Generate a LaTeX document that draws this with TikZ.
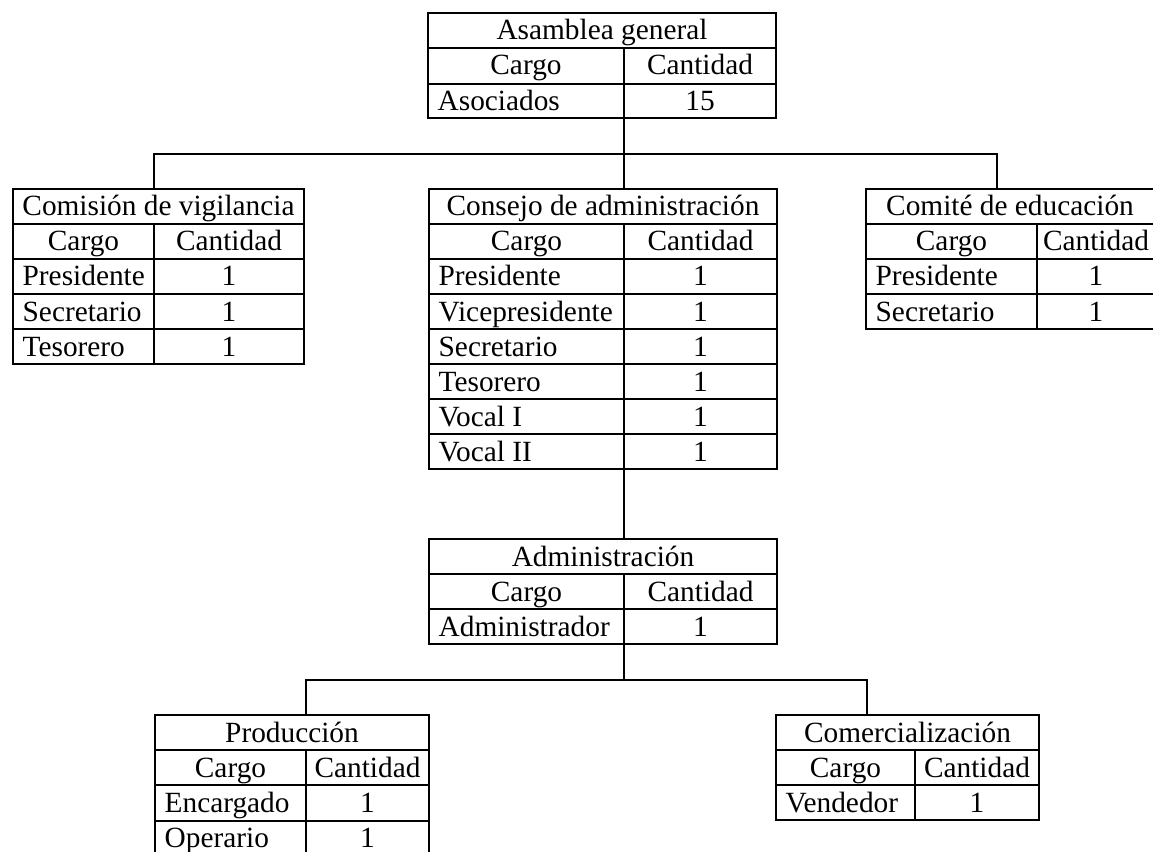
\documentclass[tikz,border=0pt]{standalone}
\usepackage{fontspec}
\setmainfont{Liberation Serif}
\usetikzlibrary{fit}

\tikzset{every picture/.style={line width=1pt}}
\tikzset{
	tbl/.style={draw, inner sep=0pt, outer sep=0pt},
	cell/.style={inner sep=0pt, anchor=base, font=\fontsize{22}{26}\selectfont},
	celll/.style={cell, anchor=base west}}

\begin{document}
\begin{tikzpicture}[x=0.75pt,y=0.75pt,yscale=-1,xscale=1]
	\useasboundingbox (0,0) rectangle (1153,852);

	%Shape: Table [asamblea]
	\node [tbl, fit={(428,13) (776,118)}] (asamblea) {};
	\draw (428,48) -- (776,48) (428,84) -- (776,84) (624,48) -- (624,118) ;
	% Text Node
	\draw (602,40) node [cell] (ag-t) {Asamblea general};
	\draw (526,75) node [cell] (ag-c) {Cargo};
	\draw (700,75) node [cell] (ag-n) {Cantidad};
	\draw (437,111) node [celll] (ag-1a) {Asociados};
	\draw (700,111) node [cell] (ag-1b) {15};

	%Shape: Table [vigilancia]
	\node [tbl, fit={(13,189) (304,364)}] (vigilancia) {};
	\draw (13,224) -- (304,224) (13,259) -- (304,259) (13,294) -- (304,294) (13,329) -- (304,329) (154,224) -- (154,364) ;
	% Text Node
	\draw (158.5,216) node [cell] (cv-t) {Comisión de vigilancia};
	\draw (83.5,251) node [cell] (cv-c) {Cargo};
	\draw (229,251) node [cell] (cv-n) {Cantidad};
	\draw (22,286) node [celll] (cv-1a) {Presidente};
	\draw (229,286) node [cell] (cv-1b) {1};
	\draw (22,321) node [celll] (cv-2a) {Secretario};
	\draw (229,321) node [cell] (cv-2b) {1};
	\draw (22,356) node [celll] (cv-3a) {Tesorero};
	\draw (229,356) node [cell] (cv-3b) {1};

	%Shape: Table [consejo]
	\node [tbl, fit={(429,189) (777,469)}] (consejo) {};
	\draw (429,224) -- (777,224) (429,259) -- (777,259) (429,294) -- (777,294) (429,329) -- (777,329) ;
	\draw (429,364) -- (777,364) (429,399) -- (777,399) (429,434) -- (777,434) (624,224) -- (624,469) ;
	% Text Node
	\draw (603,216) node [cell] (ca-t) {Consejo de administración};
	\draw (526.5,251) node [cell] (ca-c) {Cargo};
	\draw (700.5,251) node [cell] (ca-n) {Cantidad};
	\draw (438,286) node [celll] (ca-1a) {Presidente};
	\draw (700.5,286) node [cell] (ca-1b) {1};
	\draw (438,321) node [celll] (ca-2a) {Vicepresidente};
	\draw (700.5,321) node [cell] (ca-2b) {1};
	\draw (438,356) node [celll] (ca-3a) {Secretario};
	\draw (700.5,356) node [cell] (ca-3b) {1};
	\draw (438,391) node [celll] (ca-4a) {Tesorero};
	\draw (700.5,391) node [cell] (ca-4b) {1};
	\draw (438,426) node [celll] (ca-5a) {Vocal I};
	\draw (700.5,426) node [cell] (ca-5b) {1};
	\draw (438,461) node [celll] (ca-6a) {Vocal II};
	\draw (700.5,461) node [cell] (ca-6b) {1};

	%Shape: Table [educacion]
	\node [tbl, fit={(866,189) (1156,329)}] (educacion) {};
	\draw (866,224) -- (1156,224) (866,259) -- (1156,259) (866,294) -- (1156,294) (1037,224) -- (1037,329) ;
	% Text Node
	\draw (1010,216) node [cell] (ce-t) {Comité de educación};
	\draw (951.5,251) node [cell] (ce-c) {Cargo};
	\draw (1096,251) node [cell] (ce-n) {Cantidad};
	\draw (875,286) node [celll] (ce-1a) {Presidente};
	\draw (1096,286) node [cell] (ce-1b) {1};
	\draw (875,321) node [celll] (ce-2a) {Secretario};
	\draw (1096,321) node [cell] (ce-2b) {1};

	%Shape: Table [admin]
	\node [tbl, fit={(429,539) (777,644)}] (admin) {};
	\draw (429,574) -- (777,574) (429,609) -- (777,609) (624,574) -- (624,644) ;
	% Text Node
	\draw (603,566) node [cell] (ad-t) {Administración};
	\draw (526.5,601) node [cell] (ad-c) {Cargo};
	\draw (700.5,601) node [cell] (ad-n) {Cantidad};
	\draw (438,636) node [celll] (ad-1a) {Administrador};
	\draw (700.5,636) node [cell] (ad-1b) {1};

	%Shape: Table [produccion]
	\node [tbl, fit={(155,715) (429,856)}] (produccion) {};
	\draw (155,750) -- (429,750) (155,785) -- (429,785) (155,821) -- (429,821) (306,750) -- (306,856) ;
	% Text Node
	\draw (292,742) node [cell] (pr-t) {Producción};
	\draw (230.5,777) node [cell] (pr-c) {Cargo};
	\draw (367.5,777) node [cell] (pr-n) {Cantidad};
	\draw (164,812) node [celll] (pr-1a) {Encargado};
	\draw (367.5,812) node [cell] (pr-1b) {1};
	\draw (164,847) node [celll] (pr-2a) {Operario};
	\draw (367.5,847) node [cell] (pr-2b) {1};

	%Shape: Table [comercial]
	\node [tbl, fit={(776,715) (1039,820)}] (comercial) {};
	\draw (776,750) -- (1039,750) (776,785) -- (1039,785) (915,750) -- (915,820) ;
	% Text Node
	\draw (907.5,742) node [cell] (co-t) {Comercialización};
	\draw (845.5,777) node [cell] (co-c) {Cargo};
	\draw (977,777) node [cell] (co-n) {Cantidad};
	\draw (785,812) node [celll] (co-1a) {Vendedor};
	\draw (977,812) node [cell] (co-1b) {1};

	%Straight Lines [connectors]
	\draw (asamblea.south -| 624,0) -- (consejo.north -| 624,0) ;
	\draw (vigilancia.north -| 154,0) -- ++(0,-35) -| (educacion.north -| 997,0) ;
	\draw (consejo.south -| 624,0) -- (admin.north -| 624,0) ;
	\draw (admin.south -| 624,0) -- ++(0,35) ;
	\draw (produccion.north -| 306,0) -- ++(0,-35) -| (comercial.north -| 867,0) ;

\end{tikzpicture}
\end{document}
